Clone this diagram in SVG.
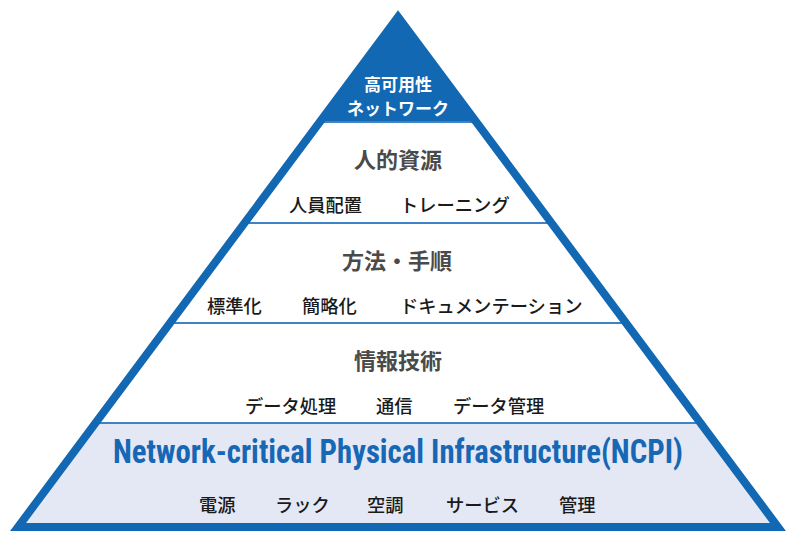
<svg xmlns="http://www.w3.org/2000/svg" width="800" height="537" viewBox="0 0 800 537">
  <style>
    .jp { font-family: "Noto Sans CJK JP", "Noto Sans", sans-serif; }
    .head { font-size: 22px; font-weight: 700; fill: #4a4a4a; text-anchor: middle; }
    .item { font-size: 18.3px; font-weight: 500; fill: #1a1a1a; }
    .top { font-size: 17px; font-weight: 700; fill: #ffffff; text-anchor: middle; }
    .sep { stroke: #3f83c6; stroke-width: 2; }
    .ncpi { font-family: "Liberation Sans Narrow", "Roboto Condensed", "Liberation Sans", sans-serif; font-size: 33px; font-weight: 700; fill: #1767b4; }
  </style>
  <rect width="800" height="537" fill="#ffffff"/>
  <g id="tier-top">
    <polygon points="398,17 320,122 476,122" fill="#1268b3"/>
    <text class="jp top" x="398" y="91">高可用性</text>
    <text class="jp top" x="398" y="115">ネットワーク</text>
  </g>
  <g id="tier-ncpi">
    <polygon points="95.5,423 700.5,423 778,527 18,527" fill="#e4e8f4"/>
    <text class="ncpi" x="113" y="463" textLength="570" lengthAdjust="spacingAndGlyphs">Network-critical Physical Infrastructure(NCPI)</text>
    <text class="jp item" x="199" y="512">電源</text>
    <text class="jp item" x="275" y="512">ラック</text>
    <text class="jp item" x="367" y="512">空調</text>
    <text class="jp item" x="446" y="512">サービス</text>
    <text class="jp item" x="559" y="512">管理</text>
  </g>
  <g id="separators">
    <line class="sep" x1="320" y1="122" x2="476" y2="122"/>
    <line class="sep" x1="244.5" y1="223" x2="551.5" y2="223"/>
    <line class="sep" x1="170" y1="323" x2="626" y2="323"/>
    <line class="sep" x1="95.5" y1="423" x2="700.5" y2="423"/>
  </g>
  <g id="tier-people">
    <text class="jp head" x="398" y="168">人的資源</text>
    <text class="jp item" x="289" y="212">人員配置</text>
    <text class="jp item" x="400" y="212">トレーニング</text>
  </g>
  <g id="tier-process">
    <text class="jp head" x="397" y="269">方法・手順</text>
    <text class="jp item" x="207" y="313">標準化</text>
    <text class="jp item" x="302" y="313">簡略化</text>
    <text class="jp item" x="400" y="313">ドキュメンテーション</text>
  </g>
  <g id="tier-it">
    <text class="jp head" x="398" y="369">情報技術</text>
    <text class="jp item" x="245" y="413">データ処理</text>
    <text class="jp item" x="376" y="413">通信</text>
    <text class="jp item" x="453" y="413">データ管理</text>
  </g>
  <g id="frame">
    <polygon points="398,17 778,527 18,527" fill="none" stroke="#1268b3" stroke-width="8" stroke-linejoin="miter" stroke-miterlimit="10"/>
  </g>
</svg>
